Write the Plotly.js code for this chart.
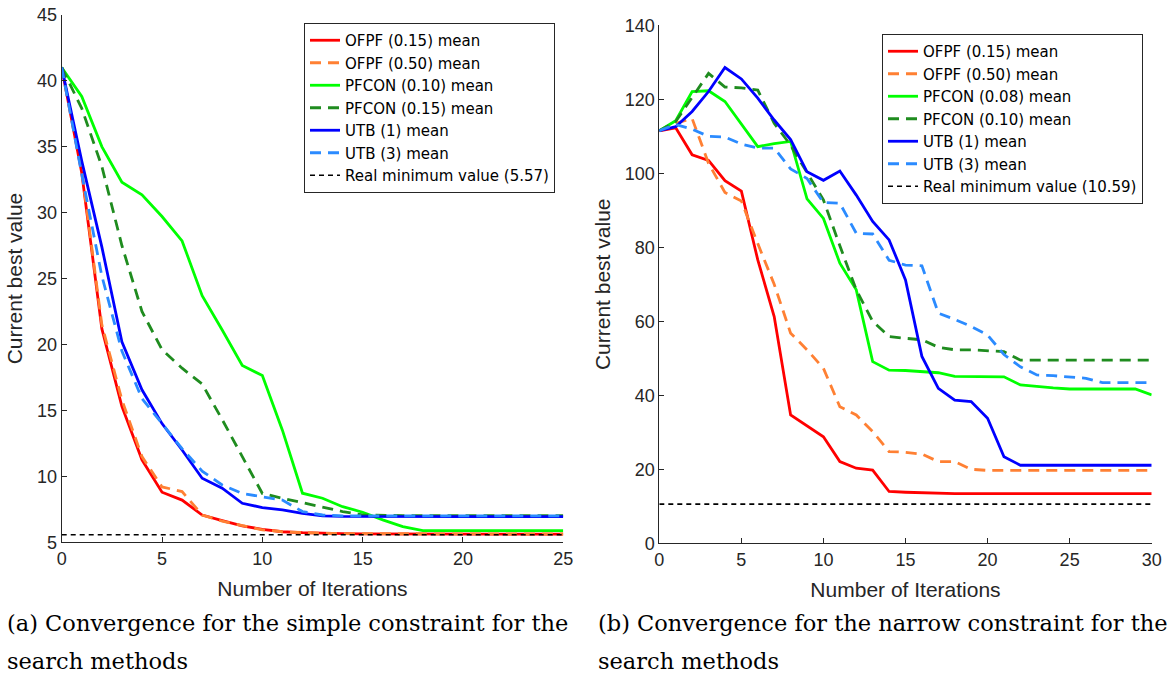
<!DOCTYPE html>
<html>
<head>
<meta charset="utf-8">
<script src="https://cdn.plot.ly/plotly-3.0.1.min.js"></script>
<style>html,body{margin:0;padding:0;background:#fff;}#chart{width:1173px;height:675px;}</style>
</head>
<body>
<div id="chart"></div>
<script>
// ---------- Data: (a) simple constraint ----------
const itersA = [0,1,2,3,4,5,6,7,8,9,10,11,12,13,14,15,16,17,18,19,20,21,22,23,24,25];
const ofpf015A = [41.0,33.0,21.2,15.3,11.25,8.8,8.2,7.07,6.64,6.24,5.98,5.8,5.73,5.68,5.66,5.64,5.63,5.62,5.62,5.62,5.62,5.62,5.62,5.62,5.62,5.62];
const ofpf050A = [41.0,33.2,21.5,15.8,11.5,9.2,8.85,7.07,6.6,6.25,5.95,5.8,5.72,5.68,5.66,5.65,5.64,5.63,5.63,5.63,5.63,5.63,5.63,5.63,5.63,5.63];
const pfcon010A = [41.0,38.8,35.0,32.3,31.35,29.7,27.85,23.7,21.1,18.4,17.65,13.5,8.72,8.34,7.7,7.28,6.7,6.19,5.89,5.88,5.88,5.88,5.88,5.88,5.88,5.88];
const pfcon015A = [41.0,37.9,33.5,27.5,22.5,19.6,18.2,17.0,14.3,11.5,8.7,8.34,8.0,7.7,7.33,7.07,7.03,7.02,7.02,7.02,7.02,7.02,7.02,7.02,7.02,7.02];
const utb1A = [41.0,33.9,27.4,20.2,16.56,14.0,12.0,9.86,9.1,7.96,7.63,7.45,7.2,7.0,6.96,6.95,6.95,6.95,6.95,6.95,6.95,6.95,6.95,6.95,6.95,6.95];
const utb3A = [41.0,32.9,25.2,19.5,15.9,14.0,12.1,10.4,9.35,8.7,8.46,8.2,7.33,7.07,7.0,7.0,7.0,7.0,7.0,7.0,7.0,7.0,7.0,7.0,7.0,7.0];
const realMinA = 5.57;

// ---------- Data: (b) narrow constraint ----------
const itersB = [0,1,2,3,4,5,6,7,8,9,10,11,12,13,14,15,16,17,18,19,20,21,22,23,24,25,26,27,28,29,30];
const ofpf015B = [111.5,112.3,105.0,103.5,98.0,95.2,76.6,61.3,34.7,31.8,28.8,22.1,20.3,19.8,14.0,13.8,13.6,13.4,13.4,13.4,13.4,13.4,13.4,13.4,13.4,13.4,13.4,13.4,13.4,13.4,13.4];
const ofpf050B = [111.5,113.5,114.8,102.7,94.8,92.5,81.0,70.0,56.8,52.3,47.3,36.9,34.7,30.2,24.8,24.6,24.1,22.1,22.1,20.0,19.7,19.7,19.7,19.7,19.7,19.7,19.7,19.7,19.7,19.7,19.7];
const pfcon008B = [111.5,114.2,122.1,122.3,119.4,113.3,107.2,108.0,108.6,93.1,87.8,75.7,68.5,49.1,46.8,46.7,46.5,46.1,45.1,45.0,45.0,45.0,42.8,42.3,42.0,41.7,41.7,41.7,41.7,41.7,40.1];
const pfcon010B = [111.5,114.0,120.5,127.0,123.3,123.1,122.5,113.5,107.6,100.0,92.8,80.4,68.5,60.0,55.9,55.4,55.0,53.0,52.3,52.3,52.1,51.8,49.5,49.5,49.5,49.5,49.5,49.5,49.5,49.5,49.5];
const utb1B = [111.5,112.6,116.7,122.1,128.6,125.5,120.3,114.4,109.1,100.4,98.1,100.6,94.1,87.0,82.0,71.2,50.5,41.9,38.7,38.3,33.8,23.4,21.1,21.1,21.1,21.1,21.1,21.1,21.1,21.1,21.1];
const utb3B = [111.5,113.2,111.9,110.0,109.8,107.9,106.8,106.8,101.2,98.6,92.1,91.9,83.8,83.6,76.5,75.2,75.0,62.2,60.5,58.6,56.3,51.0,47.7,45.5,45.3,45.0,44.6,43.4,43.4,43.4,43.4];
const realMinB = 10.59;

const namesA = ['OFPF (0.15) mean','OFPF (0.50) mean','PFCON (0.10) mean','PFCON (0.15) mean','UTB (1) mean','UTB (3) mean','Real minimum value (5.57)'];
const namesB = ['OFPF (0.15) mean','OFPF (0.50) mean','PFCON (0.08) mean','PFCON (0.10) mean','UTB (1) mean','UTB (3) mean','Real minimum value (10.59)'];
const xTitle = 'Number of Iterations';
const yTitle = 'Current best value';
const captionA = ['(a) Convergence for the simple constraint for the','search methods'];
const captionB = ['(b) Convergence for the narrow constraint for the','search methods'];

// ---------- Styles ----------
const colors = ['#ff0000','#ff8033','#00ff00','#1f8c1f','#0000ff','#2b8bff','#000000'];
const dashes = ['solid','11px,7px','solid','11px,7px','solid','11px,7px','5px,4px'];
const widths = [2.8,2.8,2.8,2.8,2.8,2.8,1.6];

function buildTraces(x, series, names, xa, ya, leg) {
  return series.map((y, k) => ({
    x: x, y: y, type: 'scatter', mode: 'lines', name: names[k],
    xaxis: xa, yaxis: ya, legend: leg,
    line: {color: colors[k], width: widths[k], dash: dashes[k]}
  }));
}

const seriesA = [ofpf015A, ofpf050A, pfcon010A, pfcon015A, utb1A, utb3A, itersA.map(() => realMinA)];
const seriesB = [ofpf015B, ofpf050B, pfcon008B, pfcon010B, utb1B, utb3B, itersB.map(() => realMinB)];

const data = buildTraces(itersA, seriesA, namesA, 'x', 'y', 'legend')
  .concat(buildTraces(itersB, seriesB, namesB, 'x2', 'y2', 'legend2'));

const W = 1173, H = 675;
const tickFont = {family: 'Liberation Sans, Arial, sans-serif', size: 18, color: '#262626'};
const titleFont = {family: 'Liberation Sans, Arial, sans-serif', size: 21, color: '#262626'};
const axisCommon = {
  showline: true, linecolor: '#262626', linewidth: 1,
  ticks: 'inside', ticklen: 5, tickcolor: '#262626', tickwidth: 1,
  showgrid: false, zeroline: false, mirror: false, tickfont: tickFont, automargin: false
};
const legendCommon = {
  bgcolor: '#ffffff', bordercolor: '#262626', borderwidth: 1,
  font: {family: 'DejaVu Sans, Liberation Sans, sans-serif', size: 15, color: '#000000'},
  xref: 'paper', yref: 'paper', xanchor: 'right', yanchor: 'top',
  tracegroupgap: 0, itemwidth: 30
};

const capFont = {family: 'DejaVu Serif, Liberation Serif, serif', size: 22.5, color: '#000000'};
function cap(text, xpx, ypx) {
  return {text: text, xref: 'paper', yref: 'paper', x: xpx / W, y: 1 - ypx / H,
    xanchor: 'left', yanchor: 'middle', showarrow: false, font: capFont, align: 'left'};
}

const layout = {
  width: W, height: H, autosize: false,
  margin: {l: 0, r: 0, t: 0, b: 0, pad: 0, autoexpand: false},
  paper_bgcolor: '#ffffff', plot_bgcolor: '#ffffff',
  showlegend: true,
  xaxis: Object.assign({}, axisCommon, {
    domain: [61.7 / W, 563.3 / W], range: [0, 25], tickvals: [0,5,10,15,20,25],
    anchor: 'y', title: {text: xTitle, font: titleFont, standoff: 13}
  }),
  yaxis: Object.assign({}, axisCommon, {
    domain: [1 - 542.3 / H, 1 - 14.7 / H], range: [5, 45], tickvals: [5,10,15,20,25,30,35,40,45],
    anchor: 'x', title: {text: yTitle, font: titleFont, standoff: 8}
  }),
  xaxis2: Object.assign({}, axisCommon, {
    domain: [659.3 / W, 1151.7 / W], range: [0, 30], tickvals: [0,5,10,15,20,25,30],
    anchor: 'y2', title: {text: xTitle, font: titleFont, standoff: 13}
  }),
  yaxis2: Object.assign({}, axisCommon, {
    domain: [1 - 543.3 / H, 1 - 25.3 / H], range: [0, 140], tickvals: [0,20,40,60,80,100,120,140],
    anchor: 'x2', title: {text: yTitle, font: titleFont, standoff: 8}
  }),
  legend: Object.assign({}, legendCommon, {x: 555 / W, y: 1 - 23 / H}),
  legend2: Object.assign({}, legendCommon, {x: 1143 / W, y: 1 - 34 / H}),
  annotations: [
    cap(captionA[0], 5, 623), cap(captionA[1], 5, 661),
    cap(captionB[0], 596, 623), cap(captionB[1], 596, 661)
  ]
};

Plotly.newPlot('chart', data, layout, {displayModeBar: false, staticPlot: true});
</script>
</body>
</html>
